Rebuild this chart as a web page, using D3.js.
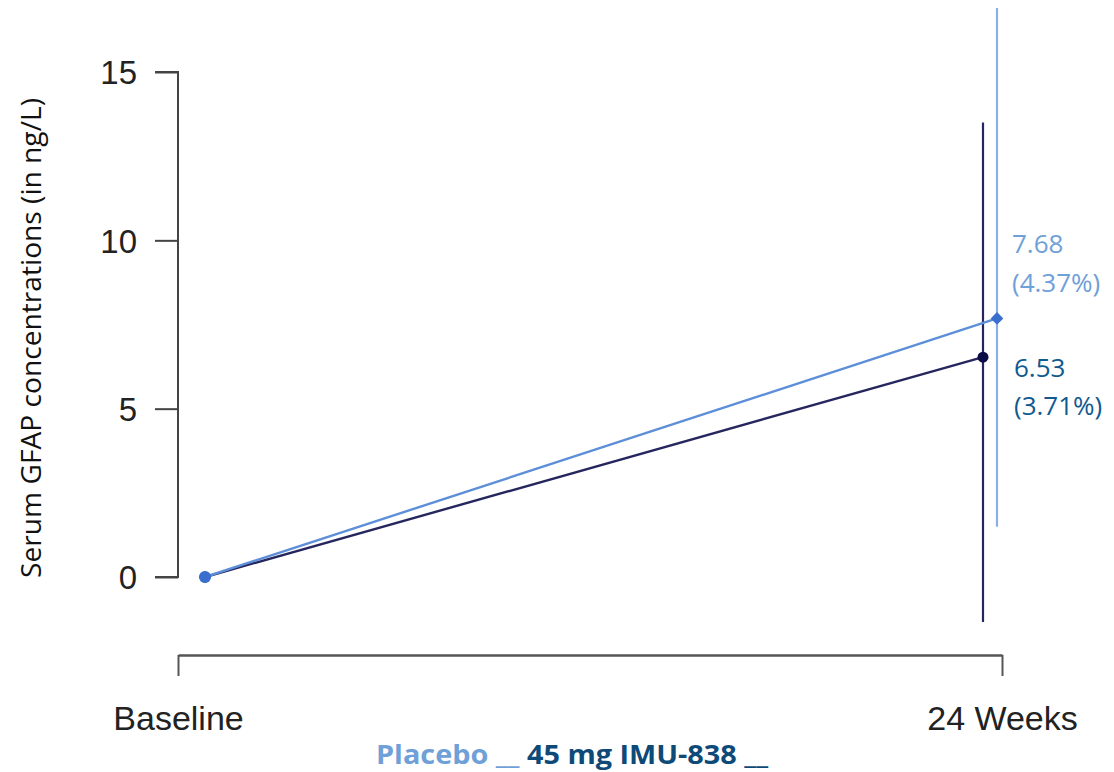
<!DOCTYPE html>
<html>
<head>
<meta charset="utf-8">
<script src="https://cdn.jsdelivr.net/npm/d3@7"></script>
<style>
  body { margin: 0; background: #fff; }
  svg { display: block; }
</style>
</head>
<body>
<svg id="canvas"></svg>
<script>
const width = 1114;
const height = 772;

// data
const timepoints = ["Baseline", "24 Weeks"];
const placeboMean = [0, 7.68];
const placeboLow = [null, 1.49];
const placeboHigh = [null, 16.9];
const imuMean = [0, 6.53];
const imuLow = [null, -1.34];
const imuHigh = [null, 13.5];
const yTicks = [0, 5, 10, 15];
const placeboNote = ["7.68", "(4.37%)"];
const imuNote = ["6.53", "(3.71%)"];

const svg = d3.select("#canvas")
  .attr("width", width)
  .attr("height", height);

const y = d3.scaleLinear().domain([0, 15]).range([577, 72]);
const x = d3.scalePoint().domain(timepoints).range([178, 1002]);

// small horizontal dodge so the series don't sit on top of each other
const dodge = {
  placebo: [27, -5],
  imu: [27, -19]
};

const placeboLight = "#8db0e2";
const placeboLine = "#5d8fd8";
const placeboDot = "#3b6fce";
const imuLine = "#26265e";
const imuDot = "#0b0b45";

// y axis
const yAxis = svg.append("g")
  .attr("transform", "translate(178,0)")
  .call(d3.axisLeft(y).tickValues(yTicks).tickSize(23).tickPadding(18));
yAxis.select(".domain").attr("stroke", "#444").attr("stroke-width", 2)
  .attr("d", `M-23,${y(15)}H0V${y(0)}H-23`);
yAxis.selectAll(".tick line").attr("stroke", "#444").attr("stroke-width", 2);
yAxis.selectAll(".tick text")
  .attr("font-family", "Liberation Sans, Arial, sans-serif")
  .attr("font-size", 33)
  .attr("fill", "#222")
  .attr("dy", "0.36em");

svg.append("text")
  .attr("transform", `translate(41,338) rotate(-90)`)
  .attr("text-anchor", "middle")
  .attr("font-family", "Open Sans, sans-serif")
  .attr("font-size", 27)
  .attr("textLength", 480)
  .attr("lengthAdjust", "spacingAndGlyphs")
  .attr("fill", "#111")
  .text("Serum GFAP concentrations (in ng/L)");

// x axis
const xAxis = svg.append("g")
  .attr("transform", "translate(0,655)")
  .call(d3.axisBottom(x).tickSizeInner(21).tickSizeOuter(0));
xAxis.select(".domain").attr("stroke", "#555").attr("stroke-width", 2.5);
xAxis.selectAll(".tick line").attr("stroke", "#555").attr("stroke-width", 2);
xAxis.selectAll(".tick text")
  .attr("font-family", "Liberation Sans, Arial, sans-serif")
  .attr("font-size", 34)
  .attr("fill", "#222")
  .attr("y", 75)
  .attr("dy", 0);

function px(key, i) { return x(timepoints[i]) + dodge[key][i]; }

// error bars
function errorBars(key, low, high, color) {
  svg.append("g").selectAll("line")
    .data(timepoints.map((t, i) => i).filter(i => low[i] !== null))
    .join("line")
    .attr("x1", i => px(key, i)).attr("x2", i => px(key, i))
    .attr("y1", i => y(low[i])).attr("y2", i => y(high[i]))
    .attr("stroke", color)
    .attr("stroke-width", 2.2);
}
errorBars("placebo", placeboLow, placeboHigh, placeboLight);
errorBars("imu", imuLow, imuHigh, imuLine);

// lines
function seriesLine(key, vals, color) {
  const line = d3.line().x((d, i) => px(key, i)).y(d => y(d));
  svg.append("path")
    .datum(vals)
    .attr("d", line)
    .attr("fill", "none")
    .attr("stroke", color)
    .attr("stroke-width", 2.4);
}
seriesLine("imu", imuMean, imuLine);
seriesLine("placebo", placeboMean, placeboLine);

// markers
svg.append("g").selectAll("circle")
  .data(imuMean)
  .join("circle")
  .attr("cx", (d, i) => px("imu", i))
  .attr("cy", d => y(d))
  .attr("r", 5.5)
  .attr("fill", imuDot);

svg.append("g").selectAll("path")
  .data(placeboMean)
  .join("path")
  .attr("d", d3.symbol().type(d3.symbolSquare).size(80))
  .attr("transform", (d, i) => `translate(${px("placebo", i)},${y(d)}) rotate(45)`)
  .attr("fill", placeboDot);

// baseline marker drawn as round blue dot
svg.append("circle")
  .attr("cx", px("placebo", 0))
  .attr("cy", y(placeboMean[0]))
  .attr("r", 6)
  .attr("fill", placeboDot);

// annotations
function note(lines, x0, y0, step, color) {
  const t = svg.append("text")
    .attr("font-family", "Open Sans, sans-serif")
    .attr("font-size", 26)
    .attr("fill", color);
  lines.forEach((s, i) => {
    t.append("tspan").attr("x", x0).attr("y", y0 + i * step).text(s);
  });
}
note(placeboNote, 1012, 253, 39, "#6fa0d8");
note(imuNote, 1014, 377, 38, "#0f5a8f");

// legend
const legend = svg.append("text")
  .attr("x", 376)
  .attr("y", 764)
  .attr("font-family", "Open Sans, sans-serif")
  .attr("font-weight", "bold")
  .attr("font-size", 27)
  .attr("textLength", 392)
  .attr("lengthAdjust", "spacingAndGlyphs");
legend.append("tspan").attr("fill", "#6fa0d8").text("Placebo __ ");
legend.append("tspan").attr("fill", "#0d4a78").text("45 mg IMU-838 __");
</script>
</body>
</html>
